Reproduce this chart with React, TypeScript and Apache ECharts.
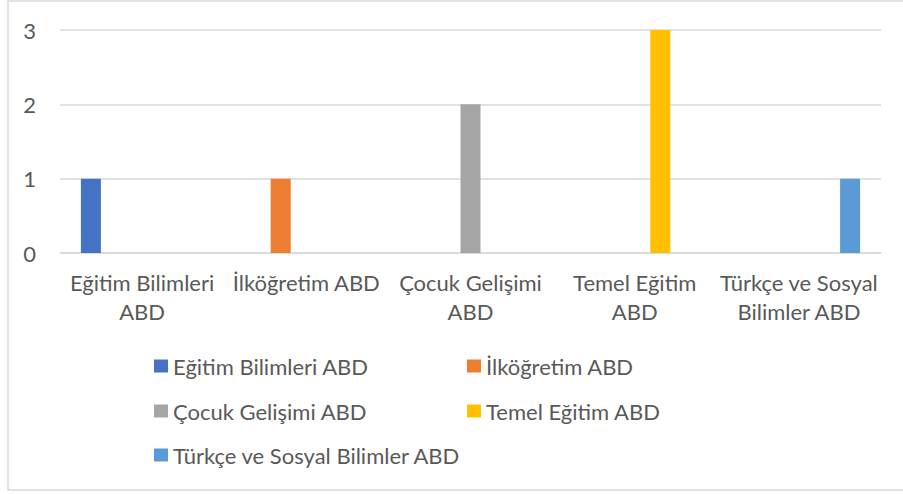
import React, { useEffect, useRef } from "react";
import * as echarts from "echarts";

const categories = [
  "Eğitim Bilimleri\nABD",
  "İlköğretim ABD",
  "Çocuk Gelişimi\nABD",
  "Temel Eğitim\nABD",
  "Türkçe ve Sosyal\nBilimler ABD",
];
const seriesNames = [
  "Eğitim Bilimleri ABD",
  "İlköğretim ABD",
  "Çocuk Gelişimi ABD",
  "Temel Eğitim ABD",
  "Türkçe ve Sosyal Bilimler ABD",
];
const seriesColors = ["#4472C4", "#ED7D31", "#A5A5A5", "#FFC000", "#5B9BD5"];
const values = [1, 1, 2, 3, 1];
const yTicks = [0, 1, 2, 3];

const FONT = "Lato";
const TEXT = "#595959";

export default function App() {
  const ref = useRef<HTMLDivElement>(null);
  useEffect(() => {
    if (!ref.current) return;
    const chart = echarts.init(ref.current, undefined, { renderer: "svg" });
    const legendPos = [
      { left: 154, top: 355 },
      { left: 467, top: 355 },
      { left: 154, top: 400 },
      { left: 467, top: 400 },
      { left: 154, top: 444 },
    ];
    chart.setOption({
      animation: false,
      backgroundColor: "#ffffff",
      textStyle: { fontFamily: FONT },
      grid: { left: 60, right: 22, top: 30, bottom: 241, containLabel: false },
      xAxis: {
        type: "category",
        data: categories,
        axisLine: { show: true, lineStyle: { color: "#d9d9d9", width: 1.5 } },
        axisTick: { show: false },
        axisLabel: {
          color: TEXT,
          fontFamily: FONT,
          fontSize: 22,
          lineHeight: 29,
          margin: 15,
          interval: 0,
        },
      },
      yAxis: {
        type: "value",
        min: yTicks[0],
        max: yTicks[yTicks.length - 1],
        interval: 1,
        axisLine: { show: false },
        axisTick: { show: false },
        splitLine: { lineStyle: { color: "#d9d9d9", width: 1.5 } },
        axisLabel: { color: TEXT, fontFamily: FONT, fontSize: 22, margin: 24 },
      },
      legend: seriesNames.map((n, i) => ({
        data: [n],
        left: legendPos[i].left,
        top: legendPos[i].top,
        itemWidth: 14,
        itemHeight: 13,
        icon: "rect",
        padding: 0,
        textStyle: { color: TEXT, fontFamily: FONT, fontSize: 22 },
      })),
      series: seriesNames.map((n, i) => ({
        name: n,
        type: "bar",
        barWidth: 20,
        barGap: "28%",
        itemStyle: { color: seriesColors[i] },
        data: categories.map((_, j) => (j === i ? values[i] : "-")),
      })),
      graphic: [
        {
          type: "rect",
          shape: { x: 8, y: 1, width: 920, height: 489 },
          style: { fill: "none", stroke: "#d9d9d9", lineWidth: 1.5 },
          silent: true,
        },
      ],
    });
    return () => chart.dispose();
  }, []);
  return (
    <div
      ref={ref}
      style={{ position: "absolute", left: 0, top: 0, width: 903, height: 494 }}
    />
  );
}
